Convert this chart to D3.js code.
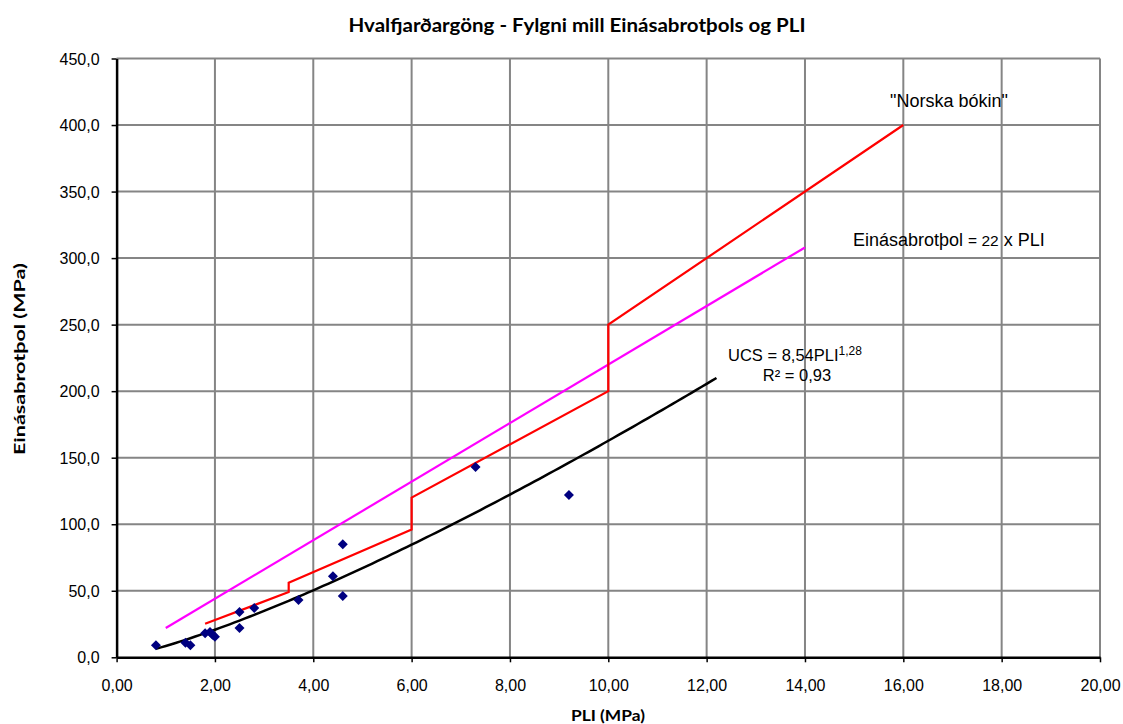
<!DOCTYPE html>
<html>
<head>
<meta charset="utf-8">
<script src="https://cdn.jsdelivr.net/npm/d3@7"></script>
<style>
  body { margin: 0; background: #fff; }
  svg { display: block; }
</style>
</head>
<body>
<div id="chart"></div>
<script>
// Measured points (PLI, UCS)
const pli = [0.8, 1.4, 1.5, 1.8, 1.9, 1.95, 2.0, 2.5, 2.5, 2.8, 3.7, 4.4, 4.6, 4.6, 7.3, 9.2];
const ucs = [9, 11, 9, 18, 19, 17, 15.5, 34, 22, 37, 43, 61, 85, 46, 143, 122];

// "Norska bókin" step line
const norskX = [1.8, 3.5, 3.5, 6, 6, 10, 10, 16];
const norskY = [25.2, 49, 56, 96, 120, 200, 250, 400];

// Einásabrotþol = 22 x PLI
const lineX = [1, 14];
const lineY = [22, 308];

// power trendline from the label
const trendA = 8.54, trendB = 1.28;
const trendRange = [0.8, 12.2];

const xTicks = d3.range(0, 21, 2);
const yTicks = d3.range(0, 451, 50);

const W = 1123, H = 724;
const margin = { top: 58.5, right: 23, bottom: 66.7, left: 116.6 };
const width = W - margin.left - margin.right;
const height = H - margin.top - margin.bottom;

const svgRoot = d3.select('#chart').append('svg')
    .attr('width', W).attr('height', H);

const svg = svgRoot.append('g')
    .attr('transform', `translate(${margin.left},${margin.top})`);

const x = d3.scaleLinear().domain([0, 20]).range([0, width]);
const y = d3.scaleLinear().domain([0, 450]).range([height, 0]);

const fmt = d => d.toFixed(2).replace('.', ',');
const fmtY = d => d.toFixed(1).replace('.', ',');

// Grid
svg.append('g').selectAll('line')
    .data(xTicks.slice(1))
    .join('line')
    .attr('x1', d => x(d)).attr('x2', d => x(d))
    .attr('y1', 0).attr('y2', height)
    .attr('stroke', '#858585').attr('stroke-width', 2);

svg.append('g').selectAll('line')
    .data(yTicks.slice(1))
    .join('line')
    .attr('x1', 0).attr('x2', width)
    .attr('y1', d => y(d)).attr('y2', d => y(d))
    .attr('stroke', '#858585').attr('stroke-width', 2);

// Axes
const xAxis = svg.append('g')
    .attr('transform', `translate(0,${height})`)
    .call(d3.axisBottom(x).tickValues(xTicks).tickFormat(fmt).tickSize(5).tickSizeOuter(0));
const yAxis = svg.append('g')
    .call(d3.axisLeft(y).tickValues(yTicks).tickFormat(fmtY).tickSize(5).tickSizeOuter(0));

[xAxis, yAxis].forEach(a => {
    a.select('.domain').attr('stroke', '#000').attr('stroke-width', 2.5);
    a.selectAll('.tick line').attr('stroke', '#000').attr('stroke-width', 1.5);
    a.selectAll('text')
        .attr('fill', '#000')
        .style('font-family', '"Liberation Sans", Arial, sans-serif')
        .style('font-size', '16px');
});
xAxis.selectAll('text').attr('y', 34).attr('dy', 0);
yAxis.selectAll('text').attr('x', -17).attr('dy', '0.35em');

// Trendline
const trendData = d3.range(trendRange[0], trendRange[1] + 0.001, 0.1)
    .map(v => [v, trendA * Math.pow(v, trendB)]);
svg.append('path')
    .datum(trendData)
    .attr('fill', 'none')
    .attr('stroke', '#000')
    .attr('stroke-width', 2.5)
    .attr('d', d3.line().x(d => x(d[0])).y(d => y(d[1])));

// 22 x PLI
svg.append('path')
    .datum(lineX.map((v, i) => [v, lineY[i]]))
    .attr('fill', 'none')
    .attr('stroke', '#ff00ff')
    .attr('stroke-width', 2.2)
    .attr('d', d3.line().x(d => x(d[0])).y(d => y(d[1])));

// Norska bókin
svg.append('path')
    .datum(norskX.map((v, i) => [v, norskY[i]]))
    .attr('fill', 'none')
    .attr('stroke', '#ff0000')
    .attr('stroke-width', 2.2)
    .attr('d', d3.line().x(d => x(d[0])).y(d => y(d[1])));

// Points
svg.append('g').selectAll('path')
    .data(pli.map((v, i) => [v, ucs[i]]))
    .join('path')
    .attr('transform', d => `translate(${x(d[0])},${y(d[1])}) rotate(45)`)
    .attr('d', d3.symbol(d3.symbolSquare, 50))
    .attr('fill', '#000080');

// Annotations
const ann = svgRoot.append('g')
    .style('font-family', '"Liberation Sans", Arial, sans-serif')
    .attr('fill', '#000');

ann.append('text')
    .attr('x', 949).attr('y', 107)
    .attr('text-anchor', 'middle')
    .style('font-size', '18px')
    .text('"Norska bókin"');

const eq = ann.append('text')
    .attr('x', 853).attr('y', 246)
    .style('font-size', '18px');
eq.append('tspan').text('Einásabrotþol ');
eq.append('tspan').style('font-size', '15.5px').text('= 22');
eq.append('tspan').text(' x PLI');

const ucsT = ann.append('text')
    .attr('x', 728).attr('y', 361)
    .style('font-size', '16.5px');
ucsT.append('tspan').text('UCS = 8,54PLI');
ucsT.append('tspan').attr('dy', -6).style('font-size', '12px').text('1,28');

ann.append('text')
    .attr('x', 797).attr('y', 381)
    .attr('text-anchor', 'middle')
    .style('font-size', '16.5px')
    .text('R² = 0,93');

// Title and axis titles
const bold = '"Lato", "Open Sans", sans-serif';
svgRoot.append('text')
    .attr('x', 577).attr('y', 32)
    .attr('text-anchor', 'middle')
    .attr('textLength', 457)
    .attr('lengthAdjust', 'spacingAndGlyphs')
    .style('font-family', bold)
    .style('font-weight', 'bold')
    .style('font-size', '18.5px')
    .text('Hvalfjarðargöng - Fylgni mill Einásabrotþols og PLI');

svgRoot.append('text')
    .attr('x', 608).attr('y', 721)
    .attr('text-anchor', 'middle')
    .attr('textLength', 74)
    .attr('lengthAdjust', 'spacingAndGlyphs')
    .style('font-family', bold)
    .style('font-weight', 'bold')
    .style('font-size', '16px')
    .text('PLI (MPa)');

svgRoot.append('text')
    .attr('transform', 'translate(25,359) rotate(-90)')
    .attr('text-anchor', 'middle')
    .attr('textLength', 192)
    .attr('lengthAdjust', 'spacingAndGlyphs')
    .style('font-family', bold)
    .style('font-weight', 'bold')
    .style('font-size', '16px')
    .text('Einásabrotþol (MPa)');
</script>
</body>
</html>
